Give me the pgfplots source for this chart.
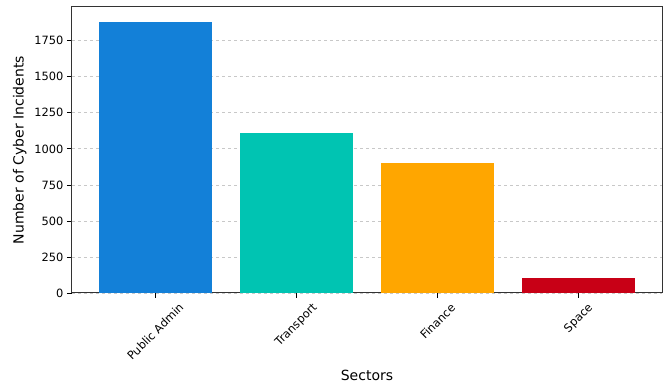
\documentclass[border=0pt]{standalone}
\usepackage{fontspec}
\setmainfont{DejaVu Sans}
\usepackage{pgfplots}
\pgfplotsset{compat=1.18}
\usepackage{graphicx}
\definecolor{cblue}{RGB}{19,128,216}
\definecolor{cteal}{RGB}{0,196,178}
\definecolor{corange}{RGB}{255,166,0}
\definecolor{cred}{RGB}{200,0,22}
\definecolor{gridc}{RGB}{200,200,200}
\begin{document}
\begin{tikzpicture}
\begin{axis}[
  scale only axis,
  width=590pt, height=286pt,
  xmin=-0.59, xmax=3.59,
  ymin=0, ymax=1984.5,
  xtick={0,1,2,3},
  xticklabels={\rotatebox{45}{Public Admin},\rotatebox{45}{Transport},\rotatebox{45}{Finance},\rotatebox{45}{Space}},
  x tick label style={anchor=north, yshift=-1pt},
  ytick={0,250,500,750,1000,1250,1500,1750},
  /pgf/number format/assume math mode=true,
  /pgf/number format/1000 sep={},
  tick label style={font=\fontsize{11.4}{13}\selectfont},
  ymajorgrids,
  grid style={dashed, gridc, line width=0.8pt},
  tick align=outside,
  tick pos=left,
  major tick length=5pt,
  tick style={black, line width=0.8pt},
  axis line style={black!80, line width=1pt},
  xlabel={Sectors},
  ylabel={Number of Cyber Incidents},
  label style={font=\fontsize{14}{16}\selectfont},
  xlabel style={yshift=-2pt},
  ylabel style={yshift=1pt},
]
\addplot[ybar, bar width=0.8, bar shift=0pt, fill=cblue, draw=none] coordinates {(0,1880)};
\addplot[ybar, bar width=0.8, bar shift=0pt, fill=cteal, draw=none] coordinates {(1,1110)};
\addplot[ybar, bar width=0.8, bar shift=0pt, fill=corange, draw=none] coordinates {(2,903)};
\addplot[ybar, bar width=0.8, bar shift=0pt, fill=cred, draw=none] coordinates {(3,101)};
\end{axis}
\pgfresetboundingbox
\path ([shift={(-72pt,-94pt)}]current axis.south west) rectangle ([shift={(9pt,7pt)}]current axis.north east);
\end{tikzpicture}
\end{document}
